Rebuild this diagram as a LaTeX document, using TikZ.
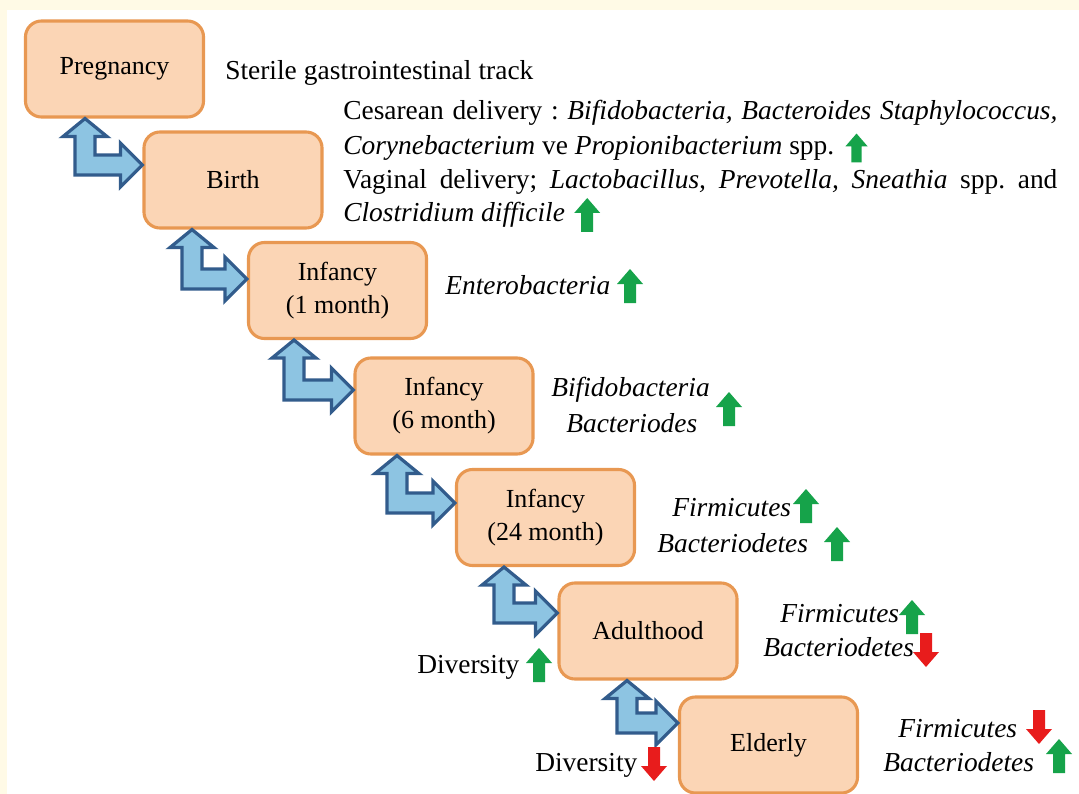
\documentclass[tikz,border=0pt]{standalone}
\usepackage{fontspec}
\setmainfont{Liberation Serif}
\usetikzlibrary{calc,positioning}

\definecolor{boxfill}{RGB}{251,213,181}
\definecolor{boxline}{RGB}{232,152,82}
\definecolor{linkfill}{RGB}{141,196,226}
\definecolor{linkline}{RGB}{50,92,140}
\definecolor{upgreen}{RGB}{22,163,74}
\definecolor{downred}{RGB}{232,28,28}
\definecolor{cream}{RGB}{255,250,230}

\tikzset{
  stage/.style={draw=boxline, fill=boxfill, line width=2.2pt, rounded corners=0.4cm,
    minimum width=4.45cm, minimum height=2.4cm, align=center,
    font=\fontsize{18.5}{23.5}\selectfont},
  note/.style={inner sep=0pt, anchor=west, font=\fontsize{19.5}{24}\selectfont},
  taxon/.style={note, font=\fontsize{19.5}{24}\selectfont\itshape},
  link/.style={draw=linkline, fill=linkfill, line width=2.3pt},
  incr/.pic={\fill[upgreen] (0,-17) -- (13,-2) -- (6,-2) -- (6,17) -- (-6,17) -- (-6,-2) -- (-13,-2) -- cycle;},
  decr/.pic={\fill[downred] (0,17) -- (13,2) -- (6,2) -- (6,-17) -- (-6,-17) -- (-6,2) -- (-13,2) -- cycle;},
}
\frenchspacing

\begin{document}
\begin{tikzpicture}[x=0.025cm, y=-0.025cm]
  \useasboundingbox (0,0) rectangle (1079,794);
  \fill[cream] (0,0) rectangle (1079,794);
  \fill[white] (7,10) rectangle (1079,794);

  % life stages
  \node[stage] (preg)  at (114.5,69)  {Pregnancy};
  \node[stage] (birth) at (233,180)   {Birth};
  \node[stage] (inf1)  at (337.5,290.5) {Infancy\\(1 month)};
  \node[stage] (inf6)  at (444,406)   {Infancy\\(6 month)};
  \node[stage] (inf24) at (545.5,517.5) {Infancy\\(24 month)};
  \node[stage] (adult) at (648,631)   {Adulthood};
  \node[stage] (elder) at (768.5,745) {Elderly};

  % bent two-way arrows between the stages
  \foreach \a/\b/\xv/\yh in {preg/birth/85/165, birth/inf1/192/279, inf1/inf6/294/390,
      inf6/inf24/397/503, inf24/adult/504/613, adult/elder/627/723}{
    \coordinate (k) at (\xv,\yh);
    \coordinate (t) at (\a.south -| k);
    \coordinate (r) at (\b.west |- k);
    \draw[link] (t) -- ($(t)+(22,18)$) -- ($(t)+(10,18)$) -- ($(k)+(10,-10)$)
      -- ($(r)+(-22,-10)$) -- ($(r)+(-22,-22)$) -- (r) -- ($(r)+(-22,22)$)
      -- ($(r)+(-22,10)$) -- ($(k)+(-10,10)$) -- ($(t)+(-10,18)$)
      -- ($(t)+(-22,18)$) -- cycle;
  }

  % pregnancy and birth
  \node[note] (steril) at (225,73) {\makebox[7.7cm][s]{Sterile gastrointestinal track}};
  \node[note] (ces1) at (343,113)
    {\makebox[17.85cm][s]{Cesarean delivery : \textit{Bifidobacteria, Bacteroides Staphylococcus,}}};
  \node[note] (ces2) at (343,148) {\textit{Corynebacterium} ve \textit{Propionibacterium} spp.};
  \node[note] (vag1) at (343,182)
    {\makebox[17.85cm][s]{Vaginal delivery; \textit{Lactobacillus, Prevotella, Sneathia} spp. and}};
  \node[note] (vag2) at (343,215) {\textit{Clostridium difficile}};
  \pic[scale=0.85] at ($(ces2.east)+(22,0)$) {incr};
  \pic at ($(vag2.east)+(22,0)$) {incr};

  % infancy
  \node[taxon] (ent) at (445,285) {Enterobacteria};
  \pic at (630,286) {incr};
  \node[taxon] (bif6) at (551,390) {Bifidobacteria};
  \node[taxon] (bac6) at (566,423) {Bacteriodes};
  \pic at (729,409) {incr};
  \node[taxon] (firm24) at (672,508) {Firmicutes};
  \pic at (806,506) {incr};
  \node[taxon] (bact24) at (657,543) {Bacteriodetes};
  \pic at (837,544) {incr};

  % adulthood
  \node[taxon] (firmA) at (780,614) {Firmicutes};
  \pic at (912,617) {incr};
  \node[taxon] (bactA) at (763,647) {Bacteriodetes};
  \pic at (926,650) {decr};
  \node[note] (divA) at (417,667) {Diversity};
  \pic at (539,665) {incr};

  % elderly
  \node[taxon] (firmE) at (898,729) {Firmicutes};
  \pic at (1039,727) {decr};
  \node[taxon] (bactE) at (883,762) {Bacteriodetes};
  \pic at (1059,756) {incr};
  \node[note] (divE) at (535,765) {Diversity};
  \pic at (654,764) {decr};
\end{tikzpicture}
\end{document}
